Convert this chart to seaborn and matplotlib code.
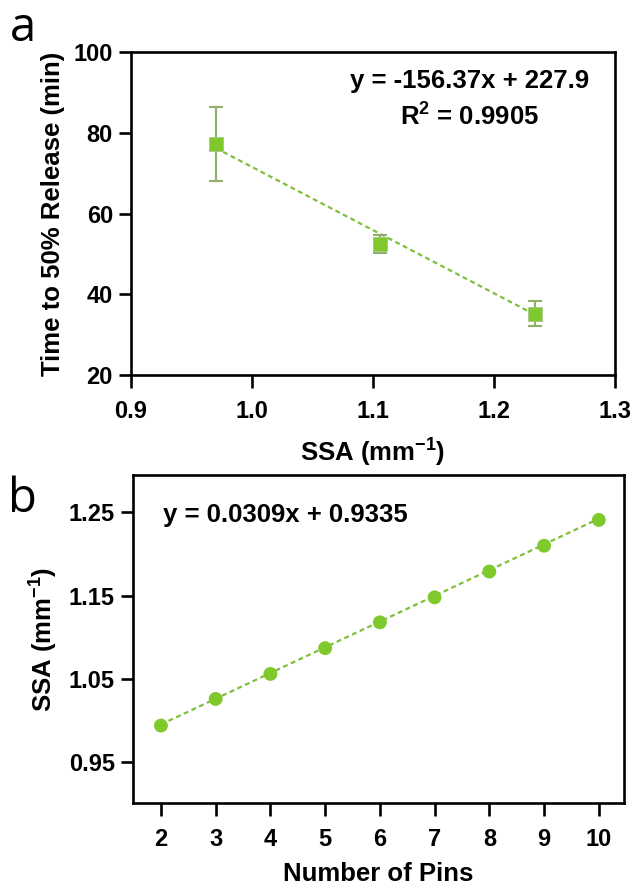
import numpy as np
import pandas as pd
import matplotlib
matplotlib.use("Agg")
import matplotlib.pyplot as plt
import seaborn as sns

# ---- panel a: time to 50 % release vs specific surface area ----
ssa_a = [0.970, 1.106, 1.234]
t50 = [77.2, 52.5, 35.2]
t50_err = [9.2, 2.3, 3.1]
fit_a_slope, fit_a_icpt = -156.37, 227.9
fit_a_label = ["y = -156.37x + 227.9", "R$^{2}$ = 0.9905"]

# ---- panel b: specific surface area vs number of pins ----
pins = [2, 3, 4, 5, 6, 7, 8, 9, 10]
ssa_b = [0.994, 1.026, 1.056, 1.087, 1.118, 1.148, 1.179, 1.210, 1.241]
fit_b_slope, fit_b_icpt = 0.0309, 0.9335
fit_b_label = "y = 0.0309x + 0.9335"

GREEN = "#80c92c"
LINE_GREEN = "#7fbf3a"
ERR_GREEN = "#8fb06a"

TICK_FS = 17
LABEL_FS = 18.5

sns.set_theme(style="ticks")
plt.rcParams["font.family"] = ["Liberation Sans", "DejaVu Sans"]
plt.rcParams["font.weight"] = "bold"
plt.rcParams["mathtext.fontset"] = "custom"
plt.rcParams["mathtext.rm"] = "Liberation Sans:bold"
plt.rcParams["mathtext.it"] = "Liberation Sans:bold"
plt.rcParams["mathtext.bf"] = "Liberation Sans:bold"
for key in ["text.color", "axes.labelcolor", "xtick.color", "ytick.color",
            "axes.edgecolor"]:
    plt.rcParams[key] = "black"

fig = plt.figure(figsize=(6.34, 8.86), dpi=100)
ax_a = fig.add_axes([0.2066, 0.5767, 0.7634, 0.3646])
ax_b = fig.add_axes([0.2098, 0.0937, 0.7744, 0.3702])

def style_axis(ax):
    for s in ax.spines.values():
        s.set_visible(True)
        s.set_linewidth(1.9)
        s.set_color("black")
    ax.tick_params(axis="both", which="major", length=9, width=1.9,
                   color="black", labelcolor="black", labelsize=TICK_FS)
    ax.tick_params(axis="x", pad=9)
    ax.tick_params(axis="y", pad=4)
    for lab in ax.get_xticklabels() + ax.get_yticklabels():
        lab.set_fontweight("bold")
    ax.grid(False)

# panel a
df_a = pd.DataFrame({"ssa": ssa_a, "t50": t50})
xf = np.array([min(ssa_a), max(ssa_a)])
fit_df_a = pd.DataFrame({"ssa": xf, "t50": fit_a_slope * xf + fit_a_icpt})
sns.lineplot(data=fit_df_a, x="ssa", y="t50", ax=ax_a, color=LINE_GREEN,
             linewidth=1.6, linestyle=(0, (2.2, 1.6)), zorder=2)
ax_a.errorbar(ssa_a, t50, yerr=t50_err, fmt="none", ecolor=ERR_GREEN,
              elinewidth=1.5, capsize=4.8, capthick=1.5, zorder=3)
sns.scatterplot(data=df_a, x="ssa", y="t50", ax=ax_a, marker="s", s=100,
                color=GREEN, edgecolor="#a9c68a", linewidth=0.6, zorder=4)
ax_a.set_xlim(0.9, 1.3)
ax_a.set_ylim(20, 100)
ax_a.set_xticks([0.9, 1.0, 1.1, 1.2, 1.3])
ax_a.set_xticklabels(["0.9", "1.0", "1.1", "1.2", "1.3"])
ax_a.set_yticks([20, 40, 60, 80, 100])
ax_a.set_xlabel("SSA (mm$^{-1}$)", fontsize=LABEL_FS, fontweight="bold",
                labelpad=10)
ax_a.set_ylabel("Time to 50% Release (min)", fontsize=LABEL_FS,
                fontweight="bold", labelpad=6)
ax_a.text(0.70, 0.91, fit_a_label[0], transform=ax_a.transAxes, ha="center",
          va="center", fontsize=LABEL_FS, fontweight="bold")
ax_a.text(0.70, 0.80, fit_a_label[1], transform=ax_a.transAxes, ha="center",
          va="center", fontsize=LABEL_FS, fontweight="bold")
style_axis(ax_a)

# panel b
df_b = pd.DataFrame({"pins": pins, "ssa": ssa_b})
pf = np.array([min(pins), max(pins)], dtype=float)
fit_df_b = pd.DataFrame({"pins": pf, "ssa": fit_b_slope * pf + fit_b_icpt})
sns.lineplot(data=fit_df_b, x="pins", y="ssa", ax=ax_b, color=LINE_GREEN,
             linewidth=1.6, linestyle=(0, (2.2, 1.6)), zorder=2)
sns.scatterplot(data=df_b, x="pins", y="ssa", ax=ax_b, marker="o", s=100,
                color=GREEN, edgecolor="none", linewidth=0, zorder=4)
ax_b.set_xlim(1.49, 10.46)
ax_b.set_ylim(0.901, 1.295)
ax_b.set_xticks(pins)
ax_b.set_yticks([0.95, 1.05, 1.15, 1.25])
ax_b.set_yticklabels(["0.95", "1.05", "1.15", "1.25"])
ax_b.set_xlabel("Number of Pins", fontsize=LABEL_FS, fontweight="bold",
                labelpad=8)
ax_b.set_ylabel("SSA (mm$^{-1}$)", fontsize=LABEL_FS, fontweight="bold",
                labelpad=6)
ax_b.text(0.061, 0.878, fit_b_label, transform=ax_b.transAxes, ha="left",
          va="center", fontsize=LABEL_FS, fontweight="bold")
style_axis(ax_b)

fig.text(0.036, 0.968, "a", fontsize=34, family="Open Sans", fontweight="normal",
         ha="center", va="center")
fig.text(0.036, 0.437, "b", fontsize=34, family="Open Sans", fontweight="normal",
         ha="center", va="center")

fig.savefig("out.png", dpi=100)
